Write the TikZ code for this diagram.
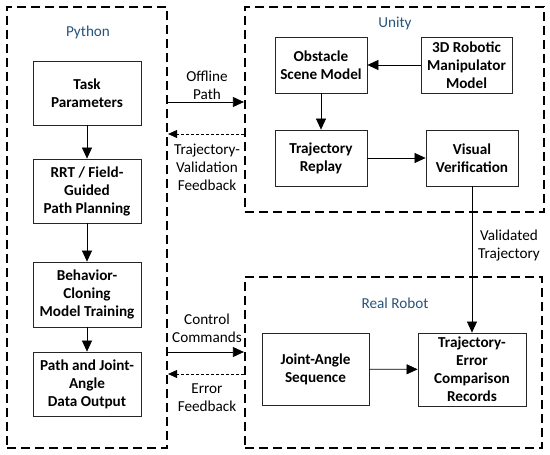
\documentclass[tikz,border=0pt]{standalone}
\usepackage{fontspec}
\setmainfont{Carlito}
\usetikzlibrary{arrows.meta}
\definecolor{titleblue}{RGB}{38,84,124}
\begin{document}
\begin{tikzpicture}[x=1pt,y=-1pt,
    font=\fontsize{15.2}{18}\selectfont,
    group/.style={draw, line width=2.2pt, dash pattern=on 9pt off 5pt},
    blockbox/.style={draw=black!85, line width=0.8pt, align=center, font=\fontsize{15.2}{18}\selectfont\bfseries, inner sep=1pt},
    title/.style={text=titleblue},
    lbl/.style={align=center},
    arr/.style={-{Triangle[length=11pt,width=10pt]}, line width=0.7pt},
    back/.style={-{Triangle[length=9pt,width=8pt]}, line width=0.6pt, dash pattern=on 3pt off 2pt}]
            \useasboundingbox (0,0) rectangle (550,455);
            % groups
            \node[group, minimum width=160, minimum height=441] (python) at (87,227.5) {};
            \node[group, minimum width=299, minimum height=205] (unity) at (394.5,109.5) {};
            \node[group, minimum width=297, minimum height=171] (robot) at (393.5,362.5) {};
            \node[title] (pytitle) at (88,32) {Python};
            \node[title] (unitytitle) at (395,23) {Unity};
            \node[title] (robottitle) at (395,303) {Real Robot};
            % Python side
            \node[blockbox, minimum width=108, minimum height=64] (task) at (87,93) {Task\\Parameters};
            \node[blockbox, minimum width=108, minimum height=64] (rrt) at (87,191) {RRT / Field-\\Guided\\Path Planning};
            \node[blockbox, minimum width=108, minimum height=65] (bc) at (87,294.5) {Behavior-\\Cloning\\Model Training};
            \node[blockbox, minimum width=108, minimum height=64] (out) at (87,384) {Path and Joint-\\Angle\\Data Output};
            \draw[arr] (task) -- (rrt);
            \draw[arr] (rrt) -- (bc);
            \draw[arr] (bc) -- (out);
            % Unity side
            \node[blockbox, minimum width=92, minimum height=56] (obst) at (321,65) {Obstacle\\Scene Model};
            \node[blockbox, minimum width=91, minimum height=56] (model3d) at (466.5,65) {3D Robotic\\Manipulator\\Model};
            \node[blockbox, minimum width=92, minimum height=56] (replay) at (321,158) {Trajectory\\Replay};
            \node[blockbox, minimum width=92, minimum height=56] (visual) at (472,158) {Visual\\Verification};
            \draw[arr] (model3d) -- (obst);
            \draw[arr] (obst) -- (replay);
            \draw[arr] (replay) -- (visual);
            % real robot
            \node[blockbox, minimum width=107, minimum height=72] (joint) at (315.5,369) {Joint-Angle\\Sequence};
            \node[blockbox, minimum width=108, minimum height=73] (err) at (472,369.5) {Trajectory-\\Error\\Comparison\\Records};
            \draw[arr] (joint) -- (err);
            \draw[arr] (visual) -- (err);
            \node[lbl] (validlbl) at (509,246) {Validated\\Trajectory};
            % between groups
            \draw[arr] (python.east |- 0,102) -- (unity.west |- 0,102);
            \draw[back] (unity.west |- 0,134) -- (python.east |- 0,134);
            \node[lbl] (offlbl) at (207,85) {Offline\\Path};
            \node[lbl] (tvlbl) at (207,167) {Trajectory-\\Validation\\Feedback};
            \draw[arr] (python.east |- 0,352) -- (robot.west |- 0,352);
            \draw[back] (robot.west |- 0,374) -- (python.east |- 0,374);
            \node[lbl] (ctrllbl) at (207,328) {Control\\Commands};
            \node[lbl] (errlbl) at (207,398) {Error\\Feedback};
        \end{tikzpicture}
\end{document}
